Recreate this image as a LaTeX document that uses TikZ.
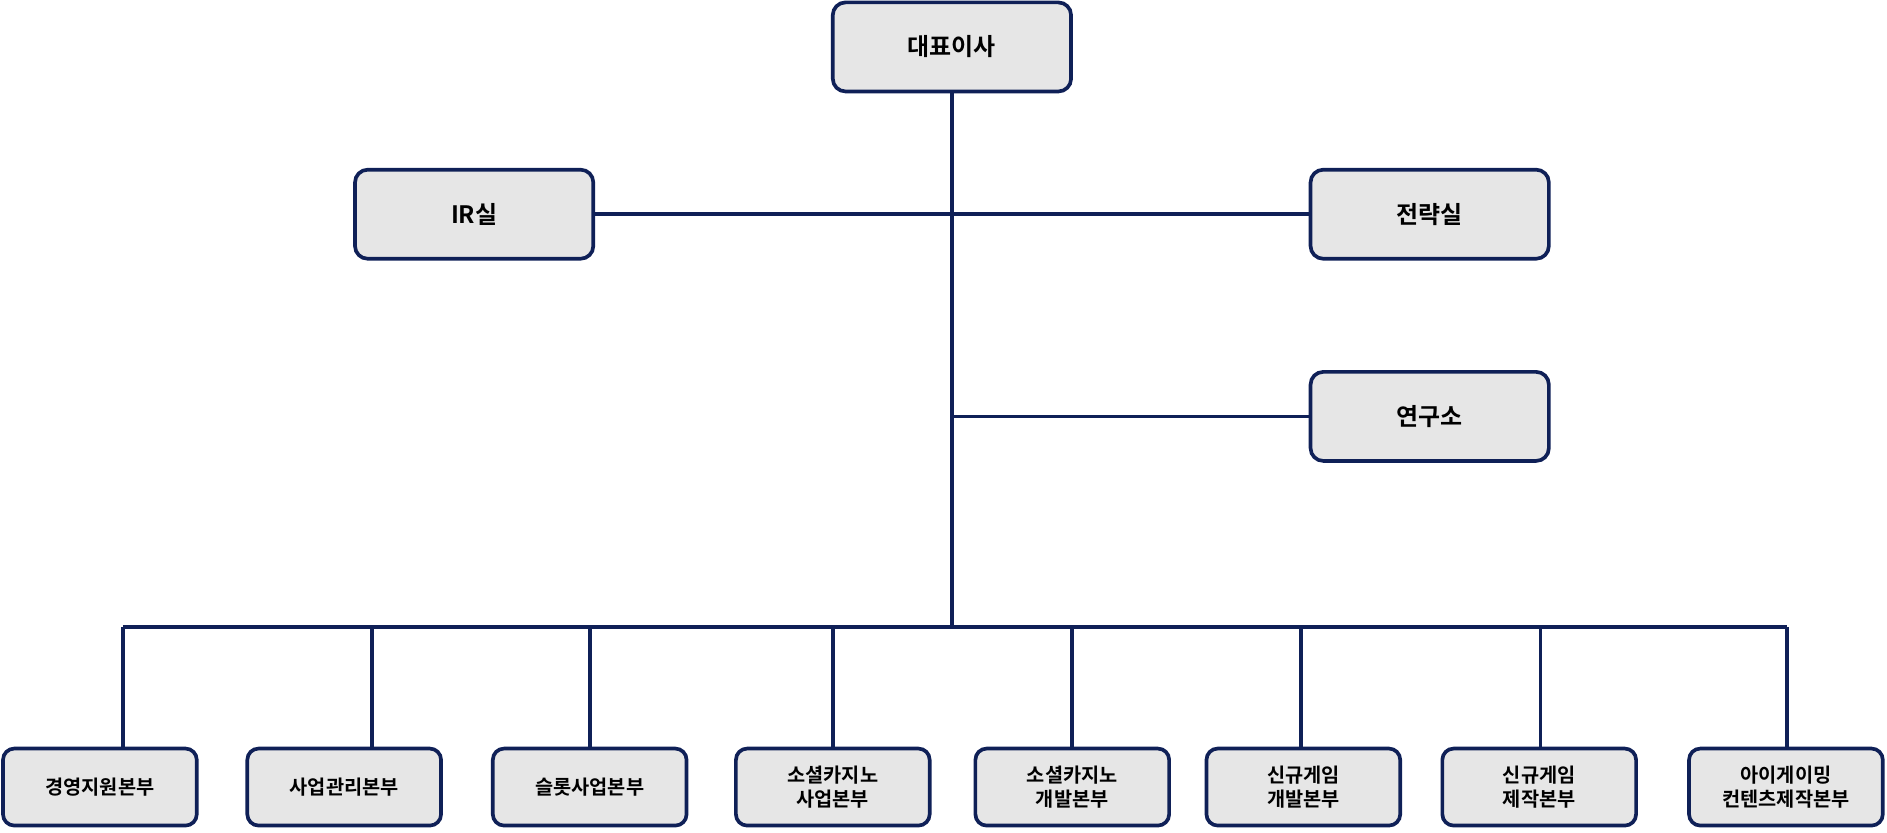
\documentclass[tikz,border=0pt]{standalone}
\usepackage{fontspec}
\setmainfont{Noto Sans CJK KR}[BoldFont={* Bold}]
\definecolor{navy}{HTML}{0F2057}
\definecolor{boxfill}{HTML}{E6E6E6}
\begin{document}
\begin{tikzpicture}[x=0.03cm,y=-0.03cm,
  line/.style={draw=navy,line width=2.6pt},
  top/.style={draw=navy,line width=2.6pt,fill=boxfill,rounded corners=9,minimum width=198*0.03cm,minimum height=74*0.03cm,font=\bfseries\fontsize{17}{20}\selectfont,inner sep=0pt},
  bot/.style={draw=navy,line width=2.6pt,fill=boxfill,rounded corners=8,minimum width=161*0.03cm,minimum height=64*0.03cm,font=\bfseries\fontsize{14}{17}\selectfont,align=center,inner sep=0pt}]
\useasboundingbox (0,0) rectangle (1568,692);
\node[top] (ceo) at (791,39) {대표이사};
\node[top] (ir) at (394,178) {IR실};
\node[top] (st) at (1188,178) {전략실};
\node[top] (rd) at (1188,346) {연구소};
\node[bot] (b1) at (83,654) {경영지원본부};
\node[bot] (b2) at (286,654) {사업관리본부};
\node[bot] (b3) at (490,654) {슬롯사업본부};
\node[bot] (b4) at (692,654) {소셜카지노\\사업본부};
\node[bot] (b5) at (891,654) {소셜카지노\\개발본부};
\node[bot] (b6) at (1083,654) {신규게임\\개발본부};
\node[bot] (b7) at (1279,654) {신규게임\\제작본부};
\node[bot] (b8) at (1484,654) {아이게이밍\\컨텐츠제작본부};
\coordinate (j1) at (791,178);
\coordinate (j2) at (791,346);
\coordinate (j3) at (791,521);
\coordinate (L) at (102,521);
\coordinate (R) at (1485,521);
\begin{scope}[on background layer/.style={}]
\draw[line] (ceo.south) -- (j3);
\draw[line] (ir.east) -- (st.west);
\draw[line] (j2) -- (rd.west);
\draw[line] (L) -- (R);
\foreach \x/\n in {102/b1,309/b2,490/b3,692/b4,891/b5,1081/b6,1280/b7,1485/b8}
  \draw[line] (\x,521) -- (\x,0 |- \n.north);
\end{scope}
\end{tikzpicture}
\end{document}
